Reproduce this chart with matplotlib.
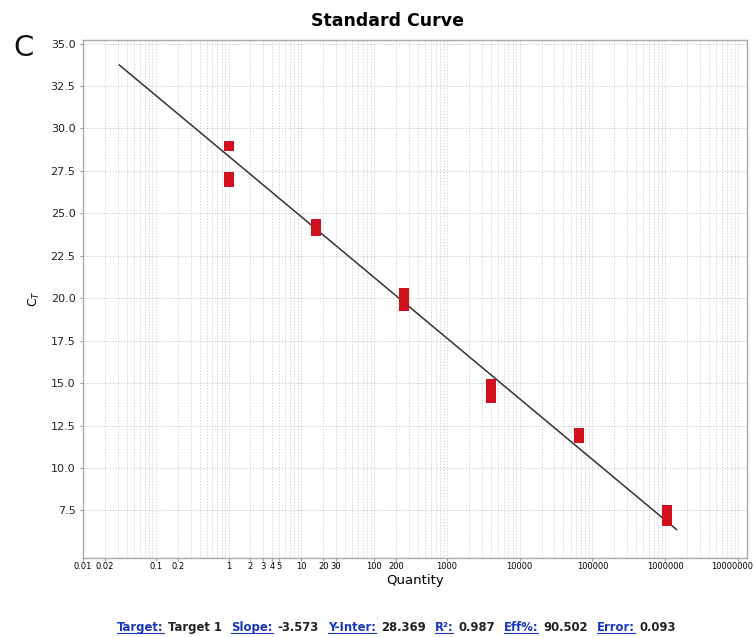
import matplotlib
matplotlib.use("Agg")
import matplotlib.pyplot as plt
import matplotlib.transforms as mtransforms
import numpy as np
from matplotlib.lines import Line2D

# standards (16-fold dilution), replicate Ct ranges
quantity = [1, 1, 16, 256, 4096, 65536, 1048576]
ct_low = [28.65, 26.55, 23.65, 19.25, 13.8, 11.45, 6.6]
ct_high = [29.25, 27.45, 24.65, 20.6, 15.25, 12.35, 7.85]

# fit results
slope = -3.573
y_inter = 28.369
line_range = [0.0316, 1.43e6]

xtick_vals = [0.01, 0.02, 0.1, 0.2, 1, 2, 3, 4, 5, 10, 20, 30, 100, 200,
              1000, 10000, 100000, 1000000, 10000000]
xtick_labels = ["0.01", "0.02", "0.1", "0.2", "1", "2", "3", "4", "5", "10",
                "20", "30", "100", "200", "1000", "10000", "100000",
                "1000000", "10000000"]
ytick_vals = [7.5, 10.0, 12.5, 15.0, 17.5, 20.0, 22.5, 25.0, 27.5, 30.0, 32.5, 35.0]

stats = [("Target:", "Target 1"), ("Slope:", "-3.573"), ("Y-Inter:", "28.369"),
         ("R\u00b2:", "0.987"), ("Eff%:", "90.502"), ("Error:", "0.093")]

fig = plt.figure(figsize=(7.55, 6.37), dpi=100)
ax = fig.add_axes([0.110, 0.124, 0.880, 0.813])

ax.set_xscale("log")
ax.set_xlim(0.0108, 1.35e7)
ax.set_ylim(4.7, 35.2)

# grid
ax.set_xticks(xtick_vals)
ax.set_xticklabels(xtick_labels, fontsize=6.0, family="Liberation Sans Narrow")
ax.xaxis.set_minor_locator(matplotlib.ticker.LogLocator(base=10, subs=np.arange(2, 10)))
ax.xaxis.set_minor_formatter(matplotlib.ticker.NullFormatter())
ax.set_yticks(ytick_vals)
ax.set_yticklabels(["%.1f" % v for v in ytick_vals], fontsize=8, color="#222222")
ax.grid(True, which="both", axis="x", color="#d6d6d6", linestyle=(0, (1.5, 1.5)), linewidth=0.7)
ax.grid(True, which="major", axis="y", color="#d0d0d0", linestyle=(0, (1.5, 1.5)), linewidth=0.7)
ax.tick_params(which="both", length=2, color="#999999")
ax.tick_params(axis="x", pad=1)
ax.tick_params(which="minor", length=0)
for s in ax.spines.values():
    s.set_color("#aaaaaa")
    s.set_linewidth(1.0)
ax.set_axisbelow(True)

# last tick label sits against the right edge, nudge it in a little
last = ax.get_xticklabels()[-1]
last.set_transform(last.get_transform() + mtransforms.ScaledTranslation(-6 / 100, 0, fig.dpi_scale_trans))

# regression line
xs = np.logspace(np.log10(line_range[0]), np.log10(line_range[1]), 50)
ax.plot(xs, y_inter + slope * np.log10(xs), color="#333333", linewidth=1.1, zorder=2)

# replicate boxes
ax.vlines(quantity, ct_low, ct_high, colors="#d0101c", linewidth=7.2, zorder=3)

ax.set_xlabel("Quantity", fontsize=9.5, labelpad=2)
ax.set_ylabel("C$_T$", fontsize=9, labelpad=6)
fig.text(387 / 755, 1 - 21 / 637, "Standard Curve", fontsize=12.5,
         fontweight="bold", ha="center", va="center")
fig.text(0.018, 0.912, "C", fontsize=21, color="#111111")

# stats line with underlined blue labels
fig.canvas.draw()
renderer = fig.canvas.get_renderer()
x = 117
y = 637 - 631
for name, val in stats:
    t = fig.text(x / 755, y / 637, name, fontsize=8.4, fontweight="bold",
                 color="#1a35b8", family="DejaVu Sans")
    bb = t.get_window_extent(renderer)
    fig.add_artist(Line2D([bb.x0 / 755, bb.x1 / 755], [(y - 1.5) / 637] * 2,
                          color="#1a35b8", linewidth=0.8, transform=fig.transFigure))
    x = bb.x1 + 5
    t2 = fig.text(x / 755, y / 637, val, fontsize=8.4, fontweight="bold",
                  color="#222222", family="DejaVu Sans")
    bb2 = t2.get_window_extent(renderer)
    x = bb2.x1 + 9

fig.savefig("out.png", dpi=100)
